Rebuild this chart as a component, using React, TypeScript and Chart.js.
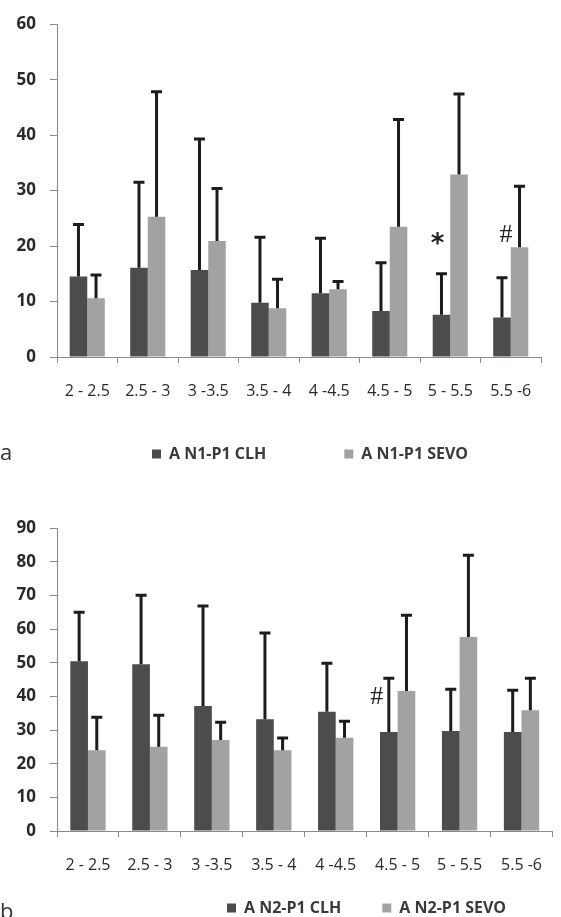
import React, { useEffect, useRef } from "react";
import { Chart, registerables } from "chart.js";

Chart.register(...registerables);

const categories = ["2 - 2.5", "2.5 - 3", "3 -3.5", "3.5 - 4", "4 -4.5", "4.5 - 5", "5 - 5.5", "5.5 -6"];

// Panel a
const aLabels = ["A N1-P1 CLH", "A N1-P1 SEVO"];
const aClh = [14.5, 16.1, 15.7, 9.8, 11.5, 8.3, 7.6, 7.1];
const aClhSd = [9.4, 15.4, 23.6, 11.8, 9.9, 8.7, 7.4, 7.2];
const aSevo = [10.6, 25.3, 20.9, 8.8, 12.2, 23.5, 32.9, 19.8];
const aSevoSd = [4.2, 22.5, 9.5, 5.2, 1.4, 19.3, 14.5, 11.0];
const aMax = 60;
const aMarkText = ["*", "#"];
const aMarkCategory = [6, 7];
const aMarkValue = [21.1, 22.0];

// Panel b
const bLabels = ["A N2-P1 CLH", "A N2-P1 SEVO"];
const bClh = [50.4, 49.5, 37.1, 33.2, 35.4, 29.4, 29.7, 29.4];
const bClhSd = [14.6, 20.5, 29.7, 25.6, 14.4, 16.0, 12.4, 12.4];
const bSevo = [24.0, 25.0, 27.0, 24.0, 27.7, 41.6, 57.6, 35.9];
const bSevoSd = [9.8, 9.4, 5.3, 3.6, 4.9, 22.5, 24.3, 9.5];
const bMax = 90;
const bMarkText = ["#"];
const bMarkCategory = [5];
const bMarkValue = [39.8];

const DARK = "#4b4c4e";
const LIGHT = "#a1a2a4";
const AXIS = "#8a8a8a";
const TEXT = "#2a2a2a";

type PanelProps = {
  height: number;
  labels: string[];
  clh: number[];
  clhSd: number[];
  sevo: number[];
  sevoSd: number[];
  max: number;
  markText: string[];
  markCategory: number[];
  markValue: number[];
  markDx: number[];
  padTop: number;
  padRight: number;
  xHeight: number;
  catPct: number;
  legendPad: number;
  legendLeft: number;
  legendTop: number;
};

function Panel(p: PanelProps) {
  const ref = useRef<HTMLCanvasElement | null>(null);
  useEffect(() => {
    if (!ref.current) return;
    const sds = [p.clhSd, p.sevoSd];
    const errorBars = {
      id: "errorBars",
      afterDatasetsDraw(chart: any) {
        const ctx = chart.ctx;
        const ys = chart.scales.y;
        ctx.save();
        ctx.strokeStyle = "#1c1c1c";
        ctx.lineWidth = 3;
        chart.data.datasets.forEach((ds: any, di: number) => {
          const meta = chart.getDatasetMeta(di);
          meta.data.forEach((bar: any, i: number) => {
            const v = ds.data[i];
            const top = ys.getPixelForValue(v + sds[di][i]);
            const base = ys.getPixelForValue(v);
            ctx.beginPath();
            ctx.moveTo(bar.x, base);
            ctx.lineTo(bar.x, top);
            ctx.moveTo(bar.x - 5.5, top);
            ctx.lineTo(bar.x + 5.5, top);
            ctx.stroke();
          });
        });
        ctx.restore();
      },
    };
    const marks = {
      id: "marks",
      afterDatasetsDraw(chart: any) {
        const ctx = chart.ctx;
        const ys = chart.scales.y;
        ctx.save();
        ctx.fillStyle = "#222";
        ctx.textAlign = "center";
        ctx.textBaseline = "middle";
        p.markText.forEach((t, k) => {
          const bar = chart.getDatasetMeta(0).data[p.markCategory[k]];
          const star = t === "*";
          ctx.font = star ? "bold 26px 'DejaVu Sans'" : "26px 'Liberation Serif'";
          ctx.fillText(t, bar.x + p.markDx[k], ys.getPixelForValue(p.markValue[k]) + (star ? 5 : 0));
        });
        ctx.restore();
      },
    };
    const legendMove = {
      id: "legendMove",
      afterLayout(chart: any) {
        const lg = chart.legend;
        if (lg) {
          const w = lg.width;
          const h = lg.height;
          lg.left = p.legendLeft;
          lg.right = p.legendLeft + w;
          lg.top = p.legendTop;
          lg.bottom = p.legendTop + h;
        }
        const xs = chart.scales.x;
        if (xs) xs.bottom = xs.top + 60;
      },
    };
    const chart = new Chart(ref.current, {
      type: "bar",
      data: {
        labels: categories,
        datasets: [
          { label: p.labels[0], data: p.clh, backgroundColor: DARK, borderWidth: 0 },
          { label: p.labels[1], data: p.sevo, backgroundColor: LIGHT, borderWidth: 0 },
        ],
      },
      options: {
        responsive: false,
        animation: false,
        layout: { padding: { top: p.padTop, right: p.padRight, left: 0, bottom: 0 } },
        datasets: { bar: { barPercentage: 1, categoryPercentage: p.catPct } },
        scales: {
          x: {
            afterFit: (s: any) => {
              s.height = p.xHeight;
            },
            grid: { drawOnChartArea: false, drawTicks: true, tickLength: 6, color: AXIS, offset: true },
            border: { color: AXIS, width: 1 },
            ticks: {
              autoSkip: false,
              maxRotation: 0,
              minRotation: 0,
              padding: 19,
              color: TEXT,
              font: { family: "'Open Sans'", size: 16 },
            },
          },
          y: {
            min: 0,
            max: p.max,
            afterFit: (s: any) => {
              s.width = 57;
            },
            grid: { drawOnChartArea: false, drawTicks: true, tickLength: 7, color: AXIS },
            border: { color: AXIS, width: 1 },
            ticks: {
              stepSize: 10,
              padding: 14,
              color: TEXT,
              font: { family: "'Open Sans'", size: 17, weight: "bold" },
            },
          },
        },
        plugins: {
          legend: {
            display: true,
            position: "bottom",
            align: "start",
            labels: {
              boxWidth: 9,
              boxHeight: 9,
              padding: p.legendPad,
              color: "#3a3a3a",
              font: { family: "'Open Sans'", size: 16, weight: "bold" },
            },
          },
          tooltip: { enabled: false },
        },
      },
      plugins: [errorBars, marks, legendMove],
    } as any);
    return () => chart.destroy();
  }, []);
  return <canvas ref={ref} width={561} height={p.height} style={{ display: "block" }} />;
}

export default function App() {
  useEffect(() => {
    document.body.style.margin = "0";
  }, []);
  const panelLetter: React.CSSProperties = {
    position: "absolute",
    left: 0,
    fontFamily: "'Open Sans'",
    fontSize: 22,
    color: "#333",
    lineHeight: "22px",
  };
  return (
    <div style={{ position: "relative", width: 561, height: 917, overflow: "hidden", background: "#fff" }}>
      <div style={{ position: "absolute", left: 0, top: 0 }}>
        <Panel
          height={475}
          labels={aLabels}
          clh={aClh}
          clhSd={aClhSd}
          sevo={aSevo}
          sevoSd={aSevoSd}
          max={aMax}
          markText={aMarkText}
          markCategory={aMarkCategory}
          markValue={aMarkValue}
          markDx={[-4, 4]}
          padTop={18}
          padRight={20}
          xHeight={14}
          catPct={0.58}
          legendPad={78}
          legendLeft={74}
          legendTop={368}
        />
      </div>
      <div style={{ position: "absolute", left: 0, top: 475 }}>
        <Panel
          height={442}
          labels={bLabels}
          clh={bClh}
          clhSd={bClhSd}
          sevo={bSevo}
          sevoSd={bSevoSd}
          max={bMax}
          markText={bMarkText}
          markCategory={bMarkCategory}
          markValue={bMarkValue}
          markDx={[-12]}
          padTop={53}
          padRight={-4}
          xHeight={19}
          catPct={0.57}
          legendPad={41}
          legendLeft={186}
          legendTop={384}
        />
      </div>
      <div style={{ ...panelLetter, top: 440 }}>a</div>
      <div style={{ ...panelLetter, top: 899 }}>b</div>
    </div>
  );
}
